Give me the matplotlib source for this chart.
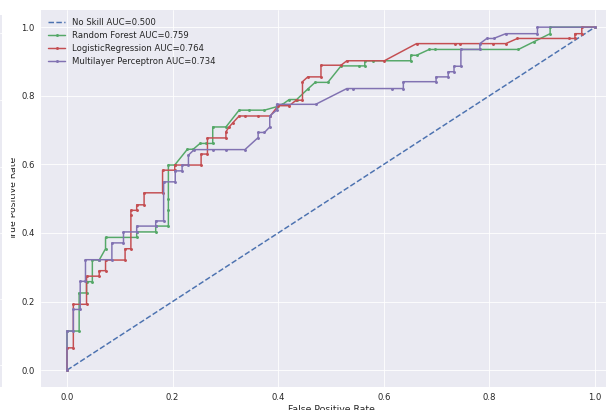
import matplotlib
matplotlib.use("Agg")
import matplotlib.pyplot as plt
from matplotlib.transforms import Bbox

plt.style.use("seaborn-v0_8")
plt.rcParams["font.family"] = ["DejaVu Sans"]

# no skill baseline
ns_fpr = [0.0, 1.0]
ns_tpr = [0.0, 1.0]

# random forest
rf_fpr = [0, 0, 0.023, 0.023, 0.037, 0.037, 0.048, 0.048, 0.061, 0.073,
          0.073, 0.132, 0.132, 0.168, 0.168, 0.192, 0.192, 0.192, 0.192, 0.204,
          0.228, 0.239, 0.252, 0.263, 0.276, 0.276, 0.301, 0.326, 0.345, 0.374,
          0.397, 0.41, 0.421, 0.435, 0.457, 0.47, 0.494, 0.519, 0.553, 0.564,
          0.564, 0.58, 0.651, 0.651, 0.662, 0.686, 0.697, 0.855, 0.885, 0.915,
          0.915, 1.0]
rf_tpr = [0, 0.114, 0.114, 0.225, 0.225, 0.258, 0.258, 0.321, 0.321, 0.354,
          0.387, 0.387, 0.403, 0.403, 0.42, 0.42, 0.466, 0.5, 0.598, 0.598,
          0.644, 0.644, 0.661, 0.661, 0.661, 0.709, 0.709, 0.758, 0.758, 0.758,
          0.768, 0.777, 0.789, 0.789, 0.821, 0.839, 0.839, 0.887, 0.887, 0.887,
          0.902, 0.902, 0.902, 0.918, 0.918, 0.935, 0.935, 0.935, 0.958, 0.981,
          1.0, 1.0]

# logistic regression
lr_fpr = [0, 0, 0.012, 0.012, 0.037, 0.037, 0.061, 0.061, 0.073, 0.073,
          0.11, 0.11, 0.121, 0.121, 0.121, 0.132, 0.132, 0.146, 0.146, 0.181,
          0.181, 0.204, 0.204, 0.254, 0.254, 0.266, 0.266, 0.301, 0.301, 0.307,
          0.314, 0.326, 0.337, 0.362, 0.385, 0.40, 0.421, 0.434, 0.446, 0.446,
          0.456, 0.481, 0.481, 0.519, 0.53, 0.601, 0.662, 0.735, 0.745, 0.807,
          0.831, 0.853, 0.951, 0.962, 0.962, 0.975, 0.975, 1.0]
lr_tpr = [0, 0.065, 0.065, 0.192, 0.192, 0.274, 0.274, 0.29, 0.29, 0.321,
          0.321, 0.354, 0.354, 0.452, 0.466, 0.466, 0.482, 0.482, 0.517, 0.517,
          0.583, 0.583, 0.598, 0.598, 0.63, 0.63, 0.677, 0.677, 0.695, 0.709,
          0.721, 0.741, 0.741, 0.741, 0.741, 0.771, 0.771, 0.787, 0.787, 0.841,
          0.855, 0.855, 0.889, 0.889, 0.902, 0.902, 0.952, 0.952, 0.952, 0.952,
          0.952, 0.967, 0.967, 0.967, 0.981, 0.981, 1.0, 1.0]

# multilayer perceptron
mlp_fpr = [0, 0, 0.012, 0.012, 0.025, 0.025, 0.035, 0.035, 0.061, 0.085,
           0.085, 0.107, 0.107, 0.132, 0.132, 0.168, 0.168, 0.183, 0.183, 0.205,
           0.205, 0.218, 0.218, 0.23, 0.23, 0.241, 0.276, 0.301, 0.337, 0.362,
           0.362, 0.374, 0.384, 0.384, 0.397, 0.397, 0.471, 0.53, 0.542, 0.615,
           0.637, 0.637, 0.699, 0.699, 0.722, 0.722, 0.733, 0.733, 0.746, 0.746,
           0.782, 0.782, 0.795, 0.808, 0.831, 0.891, 0.891, 1.0]
mlp_tpr = [0, 0.114, 0.114, 0.177, 0.177, 0.259, 0.259, 0.322, 0.322, 0.322,
           0.371, 0.371, 0.403, 0.403, 0.42, 0.42, 0.435, 0.435, 0.549, 0.549,
           0.581, 0.581, 0.598, 0.598, 0.627, 0.643, 0.643, 0.643, 0.643, 0.678,
           0.693, 0.693, 0.709, 0.741, 0.758, 0.775, 0.775, 0.821, 0.821, 0.821,
           0.821, 0.841, 0.841, 0.855, 0.855, 0.87, 0.87, 0.886, 0.886, 0.935,
           0.935, 0.952, 0.967, 0.967, 0.981, 0.981, 1.0, 1.0]

labels = ["No Skill AUC=0.500", "Random Forest AUC=0.759",
          "LogisticRegression AUC=0.764", "Multilayer Perceptron AUC=0.734"]

W, H, DPI = 606, 410, 61
fig = plt.figure(figsize=(W / DPI, H / DPI), dpi=DPI)

# sliver of the neighbouring plot on the far left
side = fig.add_axes([0, 23 / H, 2.5 / W, 372 / H])
side.set_ylim(395, 15)
side.set_yticks([33, 102, 170, 238, 305, 373])
side.set_xticks([])
side.tick_params(labelleft=False)

ax = fig.add_axes([40.6 / W, (H - 387.3) / H, 580.8 / W, 377.3 / H])
ax.plot(ns_fpr, ns_tpr, linestyle="--", label=labels[0])
ax.plot(rf_fpr, rf_tpr, marker=".", label=labels[1])
ax.plot(lr_fpr, lr_tpr, marker=".", label=labels[2])
ax.plot(mlp_fpr, mlp_tpr, marker=".", label=labels[3])

ax.set_xlabel("False Positive Rate", labelpad=3)
yl = ax.set_ylabel("True Positive Rate", labelpad=4)
# the reference screenshot shows this label partly hidden on its left side
yl.set_clip_box(Bbox.from_extents(11, 0, W, H))
yl.set_clip_on(True)

ax.legend(loc="upper left")

fig.savefig("out.png", dpi=DPI)
